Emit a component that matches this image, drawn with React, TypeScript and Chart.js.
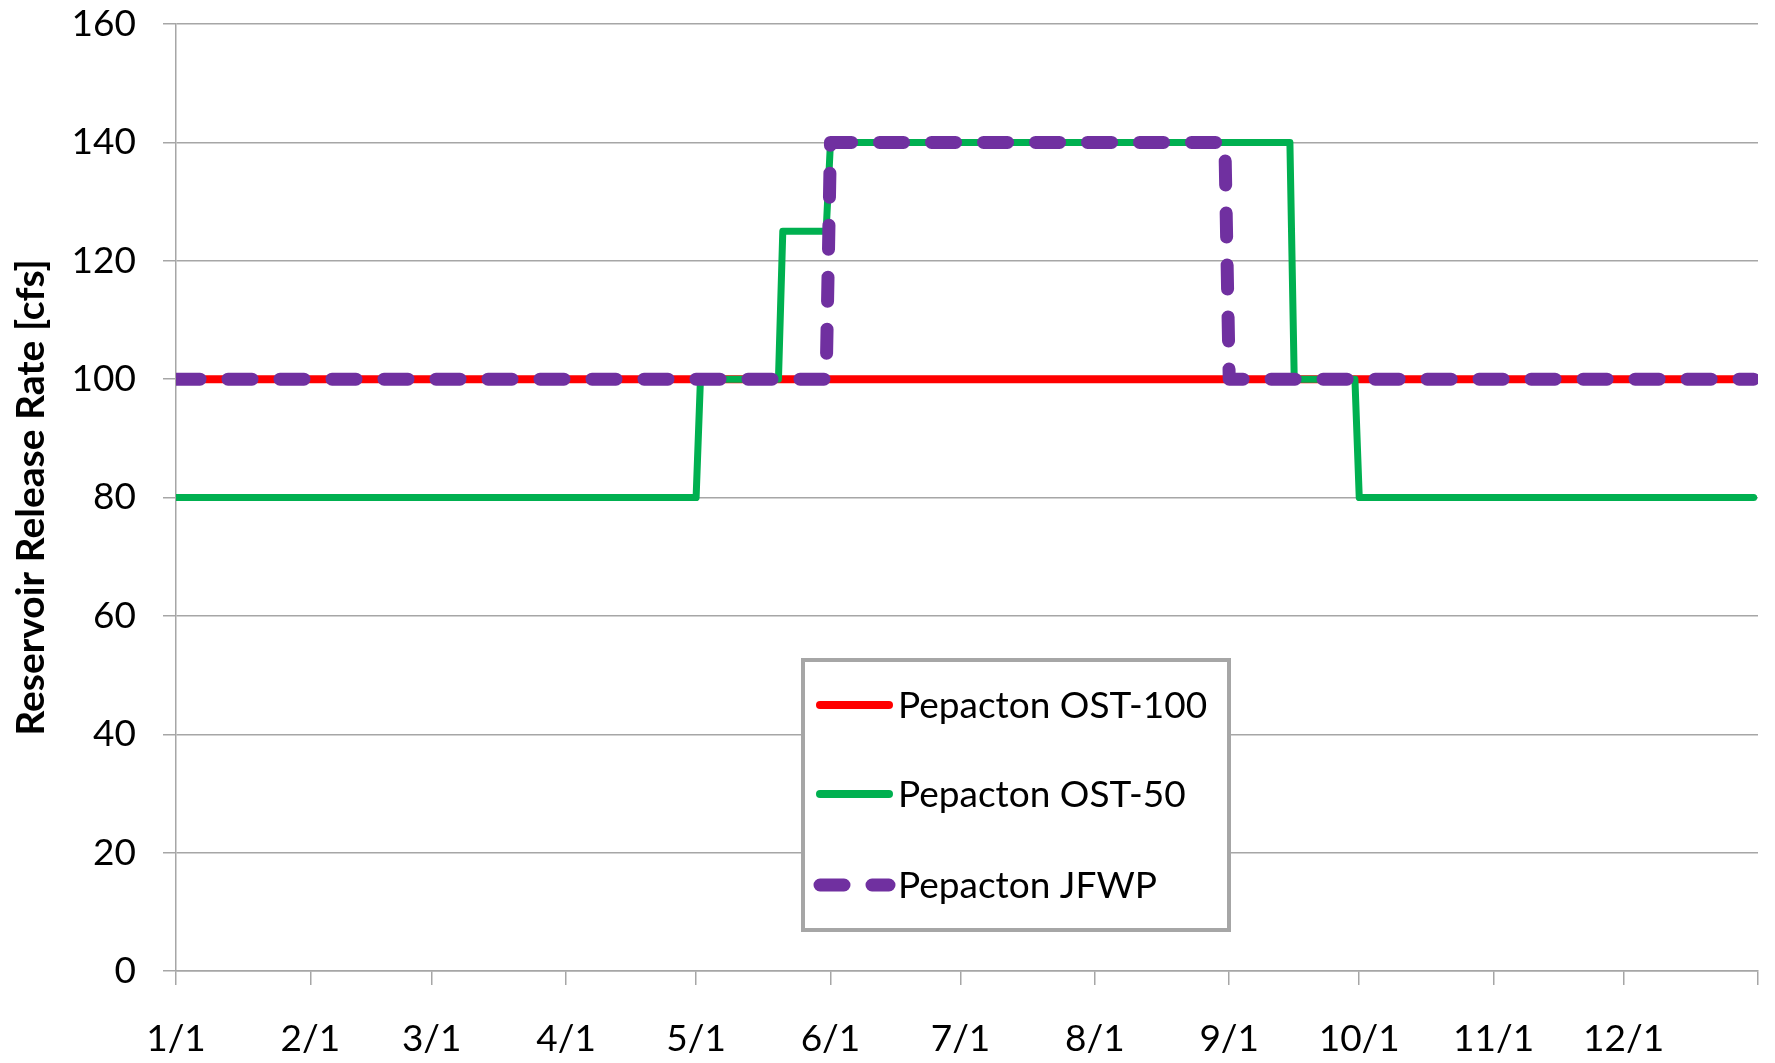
import React, { useEffect, useRef } from 'react';
import { Chart, registerables } from 'chart.js';

Chart.register(...registerables);

// ---- Data ----
const monthTickDays = [0, 31, 59, 90, 120, 151, 181, 212, 243, 273, 304, 334, 365];
const monthTickLabels = ['1/1', '2/1', '3/1', '4/1', '5/1', '6/1', '7/1', '8/1', '9/1', '10/1', '11/1', '12/1', ''];

const seriesNames = ['Pepacton OST-100', 'Pepacton OST-50', 'Pepacton JFWP'];

const ost100Days = [0, 364];
const ost100Values = [100, 100];

const ost50Days = [0, 120, 121, 139, 140, 150, 151, 257, 258, 272, 273, 364];
const ost50Values = [80, 80, 100, 100, 125, 125, 140, 140, 100, 100, 80, 80];

const jfwpDays = [0, 150, 151, 242, 243, 364];
const jfwpValues = [100, 100, 140, 140, 100, 100];

const yMin = 0;
const yMax = 160;
const yStep = 20;

const yTitle = 'Reservoir Release Rate [cfs]';

const toPoints = (days: number[], values: number[]) => days.map((d, i) => ({ x: d, y: values[i] }));

const FONT = 'Lato';

const legendPlugin = {
  id: 'boxLegend',
  afterDraw(chart: any) {
    const { ctx, chartArea } = chart;
    const x0 = chartArea.left + 627;
    const y0 = chartArea.top + 636;
    const w = 426;
    const h = 270;
    ctx.save();
    ctx.fillStyle = '#ffffff';
    ctx.fillRect(x0, y0, w, h);
    ctx.strokeStyle = '#a6a6a6';
    ctx.lineWidth = 4;
    ctx.strokeRect(x0, y0, w, h);
    const rowOffsets = [45, 134, 225];
    seriesNames.forEach((name, i) => {
      const ds: any = chart.data.datasets[i];
      const y = y0 + rowOffsets[i];
      ctx.beginPath();
      ctx.setLineDash(ds.borderDash || []);
      ctx.lineDashOffset = 0;
      ctx.lineCap = 'round';
      ctx.lineWidth = i === 2 ? 13 : 8;
      ctx.strokeStyle = ds.borderColor;
      ctx.moveTo(x0 + 17, y);
      ctx.lineTo(x0 + 86, y);
      ctx.stroke();
      ctx.setLineDash([]);
      ctx.fillStyle = '#000000';
      ctx.font = `37px ${FONT}`;
      ctx.textBaseline = 'middle';
      ctx.textAlign = 'left';
      ctx.fillText(name, x0 + 95, y + 1);
    });
    ctx.restore();
  },
};

export default function App() {
  const canvasRef = useRef<HTMLCanvasElement | null>(null);

  useEffect(() => {
    document.body.style.margin = '0';
    document.body.style.overflow = 'hidden';
    const canvas = canvasRef.current;
    if (!canvas) return;
    const chart = new Chart(canvas, {
      type: 'line',
      data: {
        datasets: [
          {
            label: seriesNames[0],
            data: toPoints(ost100Days, ost100Values),
            borderColor: '#ff0000',
            backgroundColor: '#ff0000',
            borderWidth: 8,
            pointRadius: 0,
            borderCapStyle: 'round',
            borderJoinStyle: 'round',
            tension: 0,
            order: 3,
          },
          {
            label: seriesNames[1],
            data: toPoints(ost50Days, ost50Values),
            borderColor: '#00b050',
            backgroundColor: '#00b050',
            borderWidth: 7,
            pointRadius: 0,
            borderCapStyle: 'round',
            borderJoinStyle: 'round',
            tension: 0,
            order: 2,
          },
          {
            label: seriesNames[2],
            data: toPoints(jfwpDays, jfwpValues),
            borderColor: '#7030a0',
            backgroundColor: '#7030a0',
            borderWidth: 13,
            borderDash: [24, 28],
            pointRadius: 0,
            borderCapStyle: 'round',
            borderJoinStyle: 'round',
            tension: 0,
            order: 1,
          },
        ],
      },
      options: {
        responsive: false,
        animation: false,
        events: [],
        layout: { padding: { top: 24, right: 17, bottom: 0, left: 0 } },
        plugins: {
          legend: { display: false },
          tooltip: { enabled: false },
        },
        scales: {
          x: {
            type: 'linear',
            min: 0,
            max: 365,
            afterBuildTicks: (scale: any) => {
              scale.ticks = monthTickDays.map((v) => ({ value: v }));
            },
            afterFit: (scale: any) => {
              scale.height = 92;
              scale.paddingLeft = 0;
              scale.paddingRight = 0;
            },
            ticks: {
              autoSkip: false,
              maxRotation: 0,
              minRotation: 0,
              padding: 32,
              color: '#000000',
              font: { family: FONT, size: 37 },
              callback: (value: any) => {
                const idx = monthTickDays.indexOf(Number(value));
                return idx >= 0 ? monthTickLabels[idx] : '';
              },
            },
            grid: {
              drawOnChartArea: false,
              drawTicks: true,
              tickLength: 14,
              color: '#a6a6a6',
              lineWidth: 1.5,
            },
            border: { display: true, color: '#a6a6a6', width: 1.5 },
          },
          y: {
            min: yMin,
            max: yMax,
            afterFit: (scale: any) => {
              scale.width = 176;
              scale.paddingTop = 0;
              scale.paddingBottom = 0;
            },
            ticks: {
              stepSize: yStep,
              padding: 27,
              color: '#000000',
              font: { family: FONT, size: 37 },
            },
            grid: {
              drawTicks: true,
              tickLength: 13,
              color: '#a6a6a6',
              lineWidth: 1.5,
            },
            border: { display: true, color: '#a6a6a6', width: 1.5 },
            title: {
              display: true,
              text: yTitle,
              color: '#000000',
              font: { family: FONT, size: 39, weight: 'bold' },
              padding: { top: 8, bottom: 0 },
            },
          },
        },
      },
      plugins: [legendPlugin],
    } as any);
    return () => chart.destroy();
  }, []);

  return (
    <div style={{ width: 1775, height: 1063, background: '#ffffff' }}>
      <canvas ref={canvasRef} width={1775} height={1063} style={{ display: 'block' }} />
    </div>
  );
}
